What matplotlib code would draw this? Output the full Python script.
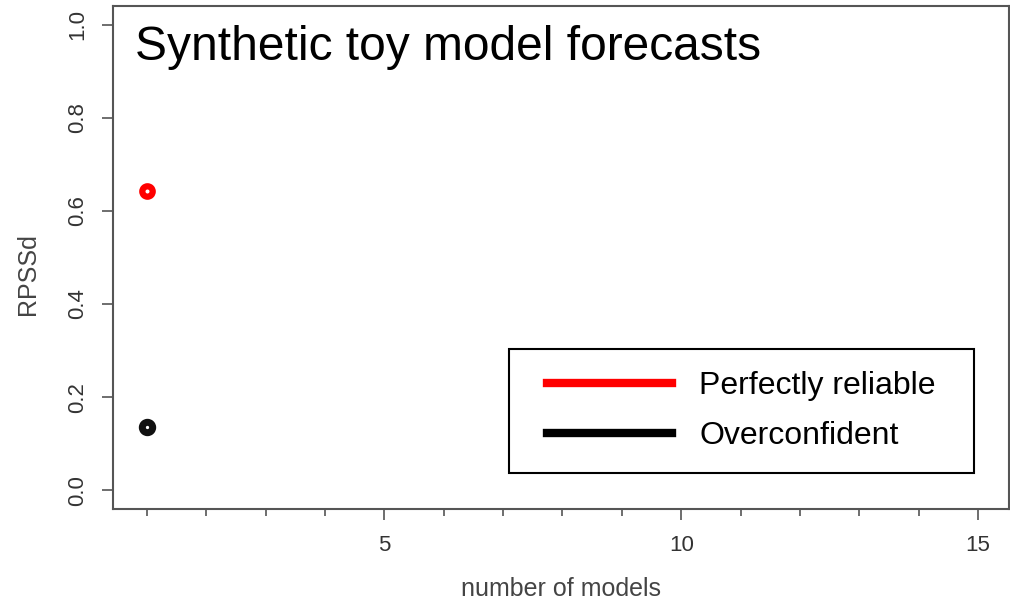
import matplotlib
matplotlib.use("Agg")
from matplotlib import pyplot as plt
from matplotlib.lines import Line2D
from matplotlib.patches import Rectangle

# RPSSd against ensemble size, synthetic toy model
n_models = [1]
rpss_reliable = [0.642]
rpss_overconf = [0.135]

labels = ["Perfectly reliable", "Overconfident"]
colours = ["#ff0000", "#000000"]

plt.rcParams["font.family"] = ["Liberation Sans", "DejaVu Sans"]
grey = "#555555"

fig = plt.figure(figsize=(10.1, 6.03), dpi=100)
ax = fig.add_axes([0.1119, 0.156, 0.8871, 0.834])

ax.plot(n_models, rpss_reliable, "o", ms=7.5, mfc="white", mec=colours[0], mew=4.5)
ax.plot(n_models, rpss_overconf, "o", ms=7.5, mfc="white", mec="#111111", mew=5)

ax.set_xlim(0.43, 15.52)
ax.set_ylim(-0.04, 1.04)

ax.set_xticks([5, 10, 15])
ax.set_xticks(range(1, 16), minor=True)
ax.set_yticks([0, 0.2, 0.4, 0.6, 0.8, 1.0])
ax.set_yticklabels(["0.0", "0.2", "0.4", "0.6", "0.8", "1.0"], rotation=90, va="center")
ax.tick_params(axis="x", which="major", length=8, width=1.2, color=grey,
               labelsize=16, labelcolor="#333333", pad=11)
ax.tick_params(axis="x", which="minor", length=5, width=1.2, color=grey)
ax.tick_params(axis="y", length=8, width=1.2, color=grey,
               labelsize=16, labelcolor="#333333", pad=10)

for s in ax.spines.values():
    s.set_color(grey)
    s.set_linewidth(1.5)

ax.set_xlabel("number of models", fontsize=18, color="#444444")
ax.xaxis.set_label_coords(0.5, -0.135)
ax.set_ylabel("RPSSd", fontsize=18, color="#444444")
ax.yaxis.set_label_coords(-0.082, 0.467)

ax.text(0.024, 0.962, "Synthetic toy model forecasts", transform=ax.transAxes,
        fontsize=34.5, va="top", ha="left", color="black")

# legend without frame, box drawn around it with separate padding
handles = [Line2D([], [], color=c, lw=6) for c in colours]
leg = ax.legend(handles, labels, loc="lower right", bbox_to_anchor=(0.918, 0.115),
                fontsize=23, frameon=False, handlelength=3.9,
                handletextpad=0.85, borderpad=0, labelspacing=0.62,
                borderaxespad=0)
fig.canvas.draw()
bb = leg.get_window_extent().transformed(fig.transFigure.inverted())
padx, pady = 38 / 1010, 22 / 603
box = Rectangle((bb.x0 - padx, bb.y0 - pady), bb.width + 2 * padx,
                bb.height + 2 * pady, transform=fig.transFigure,
                fill=False, edgecolor="black", linewidth=1.5, zorder=5)
fig.add_artist(box)

plt.savefig("out.png", dpi=100)
